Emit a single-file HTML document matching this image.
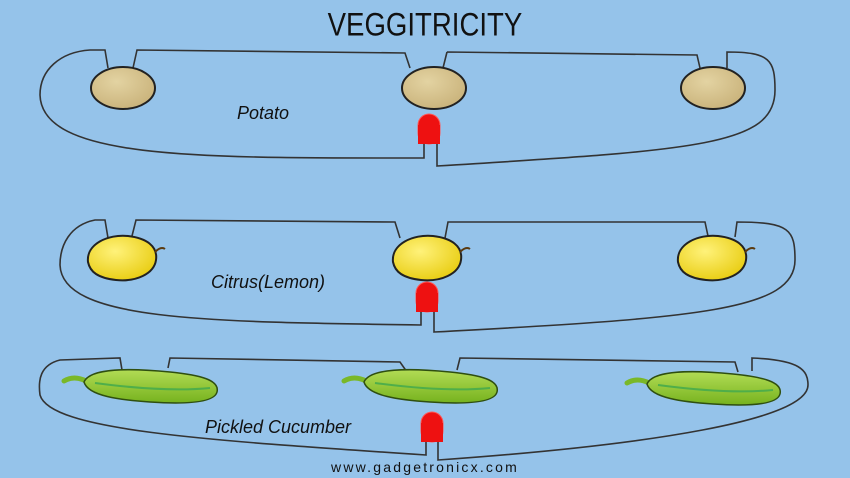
<!DOCTYPE html>
<html><head><style>
html,body{margin:0;padding:0;background:#95c3ea;}
svg{display:block;}
text{font-family:"Liberation Sans",sans-serif;}
</style></head><body>
<svg width="850" height="478" viewBox="0 0 850 478" xmlns="http://www.w3.org/2000/svg">
<defs>
<radialGradient id="pot" cx="40%" cy="35%" r="70%"><stop offset="0" stop-color="#e3d3a2"/><stop offset="1" stop-color="#c9b27a"/></radialGradient>
<radialGradient id="lem" cx="40%" cy="35%" r="70%"><stop offset="0" stop-color="#fff27a"/><stop offset="1" stop-color="#e8cc10"/></radialGradient>
<linearGradient id="cuc" x1="0" y1="0" x2="0" y2="1"><stop offset="0" stop-color="#b2dc55"/><stop offset="1" stop-color="#76b21e"/></linearGradient>
<g id="led"><rect x="-11" y="-16" width="22" height="30" rx="11" fill="#ee1111" stroke="#ff5555" stroke-width="1"/><rect x="-11" y="-5" width="22" height="19" fill="#ee1111"/></g>
<g id="potato"><ellipse cx="0" cy="0" rx="32" ry="21" fill="url(#pot)" stroke="#222" stroke-width="2"/></g>
<g id="lemon"><path d="M-34,4 C-36,-14 -14,-24 6,-22 C24,-20 36,-12 34,2 C32,16 14,24 -6,22 C-24,20 -32,14 -34,4Z" fill="url(#lem)" stroke="#222" stroke-width="2"/><path d="M33,-6 q6,-6 10,-3" stroke="#5a3a10" stroke-width="2" fill="none"/></g>
<g id="cucumber"><path d="M-64,-5 q-12,-6 -22,0" stroke="#7ab828" stroke-width="5" fill="none" stroke-linecap="round"/><path d="M-66,-4 C-60,-18 -20,-18 20,-14 C50,-11 70,-6 67,6 C64,18 30,18 0,16 C-30,14 -62,10 -66,-4 Z" fill="url(#cuc)" stroke="#2f4f10" stroke-width="1.5"/><path d="M-55,-3 C-10,3 30,5 60,2" stroke="#4fae4a" stroke-width="2" fill="none"/></g>
</defs>
<rect width="850" height="478" fill="#95c3ea"/>
<text x="425" y="33" font-size="30" text-anchor="middle" fill="#111" transform="translate(425 0) scale(0.92 1.08) translate(-425 0)">VEGGITRICITY</text>

<g fill="none" stroke="#333" stroke-width="1.6">
<path d="M108,68 L105,50 L90,50 C60,52 40,70 40,95 C42,160 200,158 424,158 L424,142"/>
<path d="M133,68 L137,50 L405,53 L410,68"/>
<path d="M447,52 L443,68 M447,52 L697,55 L700,68"/>
<path d="M727,68 L727,52 C770,52 775,60 775,90 C775,145 700,150 437,166 L437,142"/>
<path d="M108,238 L105,220 L95,220 C70,225 60,245 60,265 C62,320 200,322 421,325 L421,308"/>
<path d="M132,236 L136,220 L395,222 L400,238"/>
<path d="M445,238 L448,222 L705,222 L708,236"/>
<path d="M735,237 L737,222 C790,222 795,230 795,260 C795,310 700,318 434,332 L434,308"/>
<path d="M122,370 L120,358 L60,360 C40,365 38,380 40,395 C50,430 200,440 426,455 L426,438"/>
<path d="M168,368 L170,358 L400,362 L407,372"/>
<path d="M457,370 L460,358 L735,362 L738,372"/>
<path d="M752,371 L752,358 C800,360 808,370 808,385 C808,420 650,445 438,460 L438,438"/>
</g>

<use href="#potato" x="123" y="88"/>
<use href="#potato" x="434" y="88"/>
<use href="#potato" x="713" y="88"/>
<use href="#lemon" x="122" y="258"/>
<use href="#lemon" x="427" y="258"/>
<use href="#lemon" x="712" y="258"/>
<use href="#cucumber" x="150" y="386"/>
<use href="#cucumber" x="430" y="386"/>
<use href="#cucumber" x="713" y="388"/>

<use href="#led" x="429" y="130"/>
<use href="#led" x="427" y="298"/>
<use href="#led" x="432" y="428"/>

<g font-style="italic" font-size="18" fill="#111">
<text x="263" y="119" text-anchor="middle">Potato</text>
<text x="268" y="288" text-anchor="middle">Citrus(Lemon)</text>
<text x="278" y="433" text-anchor="middle">Pickled Cucumber</text>
</g>
<text x="425" y="472" font-size="14" text-anchor="middle" letter-spacing="2.2" fill="#111">www.gadgetronicx.com</text>
</svg>
</body></html>
